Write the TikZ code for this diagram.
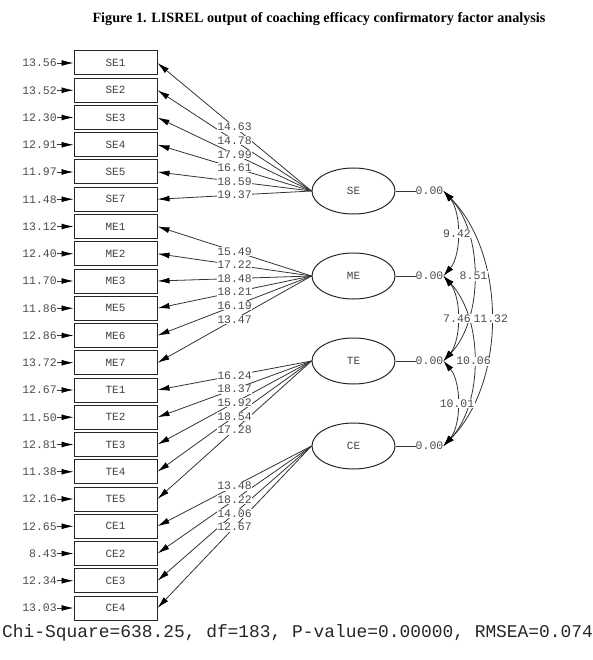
\documentclass[tikz,border=0pt]{standalone}
\usepackage{fontspec}
\setmainfont{Liberation Serif}
\newfontfamily\lmono{Liberation Mono}
\usetikzlibrary{shapes.geometric,arrows.meta,calc}
\begin{document}
\begin{tikzpicture}[x=1pt,y=-1pt,
  lin/.style={draw=black!80, line width=0.8pt},
  arr/.style={lin, -{Latex[length=12pt,width=6pt,color=black]}},
  cov/.style={lin, {Latex[length=11pt,width=6.5pt,color=black]}-{Latex[length=11pt,width=6.5pt,color=black]}},
  obs/.style={draw=black!85, line width=1pt, minimum width=83pt, minimum height=24pt, inner sep=0pt, font=\lmono\fontsize{11}{11}\selectfont, text=black!75},
  lat/.style={ellipse, draw=black!85, line width=1pt, minimum width=83pt, minimum height=46pt, inner sep=0pt, font=\lmono\fontsize{11}{11}\selectfont, text=black!75},
  sm/.style={font=\lmono\fontsize{11.5}{12}\selectfont, text=black!70, inner sep=0pt},
  loadlab/.style={sm, fill=white, inner sep=0.6pt},
  titlef/.style={font=\bfseries\fontsize{14.2}{16}\selectfont, inner sep=0pt},
  fitf/.style={font=\lmono\fontsize{17.9}{20}\selectfont, inner sep=0pt, text=black!85}
]
\useasboundingbox (0,0) rectangle (592,660);

\node[titlef, anchor=base] (title) at (319,23) {Figure 1. LISREL output of coaching efficacy confirmatory factor analysis};

\node[lat] (SE) at (353.5,191) {SE};
\node[lat] (ME) at (353.5,276) {ME};
\node[lat] (TE) at (353.5,361) {TE};
\node[lat] (CE) at (353.5,446) {CE};

\foreach \nm/\er/\fc [count=\i from 0] in {
  SE1/13.56/SE, SE2/13.52/SE, SE3/12.30/SE, SE4/12.91/SE, SE5/11.97/SE, SE7/11.48/SE,
  ME1/13.12/ME, ME2/12.40/ME, ME3/11.70/ME, ME5/11.86/ME, ME6/12.86/ME, ME7/13.72/ME,
  TE1/12.67/TE, TE2/11.50/TE, TE3/12.81/TE, TE4/11.38/TE, TE5/12.16/TE,
  CE1/12.65/CE, CE2/8.43/CE, CE3/12.34/CE, CE4/13.03/CE} {
  \node[obs] (b\i) at (115.5,{63+27.25*\i}) {\nm};
  \node[sm, anchor=east] (e\i) at (57,{63+27.25*\i}) {\er};
  \draw[arr] (e\i.east) -- (b\i.west);
  \draw[arr] (\fc.west) -- (b\i.east);
}

\foreach \ld/\fc [count=\i from 0] in {
  14.63/SE, 14.78/SE, 17.99/SE, 16.61/SE, 18.59/SE, 19.37/SE,
  15.49/ME, 17.22/ME, 18.48/ME, 18.21/ME, 16.19/ME, 13.47/ME,
  16.24/TE, 18.37/TE, 15.92/TE, 18.54/TE, 17.28/TE,
  13.48/CE, 18.22/CE, 14.06/CE, 12.67/CE} {
  \node[loadlab] (l\i) at ($(\fc.west)!0.5!(b\i.east)$) {\ld};
}

\foreach \fc in {SE,ME,TE,CE} {
  \node[sm, anchor=west] (v\fc) at ($(\fc.east)+(20,0)$) {0.00};
  \draw[lin] (\fc.east) -- (v\fc.west);
}

\draw[cov] (vSE.east) .. controls +(63,64) and +(63,-64) .. (vCE.east) node[loadlab, pos=0.5] (c14) {11.32};
\draw[cov] (vSE.east) .. controls +(40,42) and +(40,-42) .. (vTE.east) node[loadlab, pos=0.5] (c13) {8.51};
\draw[cov] (vME.east) .. controls +(40,42) and +(40,-42) .. (vCE.east) node[loadlab, pos=0.5] (c24) {10.06};
\draw[cov] (vSE.east) .. controls +(18,21) and +(18,-21) .. (vME.east) node[loadlab, pos=0.5] (c12) {9.42};
\draw[cov] (vME.east) .. controls +(18,21) and +(18,-21) .. (vTE.east) node[loadlab, pos=0.5] (c23) {7.46};
\draw[cov] (vTE.east) .. controls +(18,21) and +(18,-21) .. (vCE.east) node[loadlab, pos=0.5] (c34) {10.01};

\node[fitf, anchor=base west] (fit) at (2,637) {Chi-Square=638.25, df=183, P-value=0.00000, RMSEA=0.074};
\end{tikzpicture}
\end{document}
